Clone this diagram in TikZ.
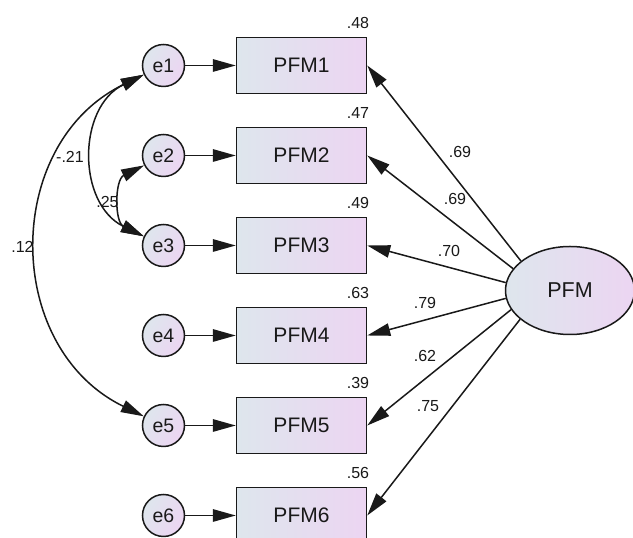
\documentclass[tikz,border=0pt]{standalone}
\usepackage{fontspec}
\setmainfont{Liberation Sans}
\usetikzlibrary{arrows.meta,shapes.geometric}

\definecolor{fillA}{RGB}{222,230,237}
\definecolor{fillB}{RGB}{236,213,242}
\definecolor{ink}{RGB}{25,25,25}

\tikzset{
  tipshape/.tip={Triangle[length=23pt,width=12.5pt]},
  conn/.style={line width=1.5pt, draw=ink, -tipshape},
  cov/.style={line width=1.5pt, draw=ink, tipshape-tipshape},
  obs/.style={rectangle, draw=ink, line width=1.5pt, minimum width=130pt,
    minimum height=56pt, inner sep=0pt, left color=fillA, right color=fillB,
    text=ink, font=\fontsize{21}{21}\selectfont},
  err/.style={circle, draw=ink, line width=1.5pt, minimum size=42pt,
    inner sep=0pt, left color=fillA, right color=fillB, shading angle=60,
    text=ink, font=\fontsize{19.5}{19.5}\selectfont},
  lat/.style={ellipse, draw=ink, line width=1.5pt, minimum width=129pt,
    minimum height=88pt, inner sep=0pt, left color=fillA, right color=fillB,
    text=ink, font=\fontsize{21.5}{21.5}\selectfont},
  val/.style={inner sep=0pt, text=ink, font=\fontsize{16}{16}\selectfont},
}

\begin{document}
\begin{tikzpicture}[x=1pt,y=1pt]
\useasboundingbox (0,0) rectangle (633,538);
\clip (0,0) rectangle (633,538);
\fill[white] (0,0) rectangle (633,538);

% observed indicators
\node[obs] (b1) at (301.5,472.5) {PFM1};
\node[obs] (b2) at (301.5,382.5) {PFM2};
\node[obs] (b3) at (301.5,292.5) {PFM3};
\node[obs] (b4) at (301.5,202.5) {PFM4};
\node[obs] (b5) at (301.5,112.5) {PFM5};
\node[obs] (b6) at (301.5,22.5) {PFM6};

% error terms
\node[err] (e1) at (163.5,472.5) {e1};
\node[err] (e2) at (163.5,382.5) {e2};
\node[err] (e3) at (163.5,292.5) {e3};
\node[err] (e4) at (163.5,202.5) {e4};
\node[err] (e5) at (163.5,112.5) {e5};
\node[err] (e6) at (163.5,22.5) {e6};

% latent factor
\node[lat] (pfm) at (570,247.5) {PFM};

% squared multiple correlations
\foreach \b/\v in {b1/.48,b2/.47,b3/.49,b4/.63,b5/.39,b6/.56}
  \node[val, anchor=east] at ([xshift=2pt,yshift=14pt]\b.north east) {\v};

% error paths
\foreach \i in {1,...,6}
  \draw[conn] (e\i) -- (b\i);

% factor loadings
\draw[conn] (pfm.149.5) -- (b1.east);
\draw[conn] (pfm.159) -- (b2.east);
\draw[conn] (pfm.173) -- (b3.east);
\draw[conn] (pfm.187.5) -- (b4.east);
\draw[conn] (pfm.198.5) -- (b5.east);
\draw[conn] (pfm.210.5) -- (b6.east);

\node[val] (l1) at (460,386) {.69};
\node[val] (l2) at (455,339) {.69};
\node[val] (l3) at (449,287) {.70};
\node[val] (l4) at (425,235) {.79};
\node[val] (l5) at (425,182) {.62};
\node[val] (l6) at (428,132) {.75};

% error covariances
\draw[cov] (e1.205) to[out=206,in=154,looseness=1.18] (e5.155);
\draw[cov] (e1.205) to[out=206,in=154,looseness=1.18] (e3.155);
\draw[cov] (e2.207) to[out=206,in=154,looseness=1.18] (e3.155);

\node[val] (c15) at (22.5,291) {.12};
\node[val] (c13) at (70,381) {-.21};
\node[val] (c23) at (107.5,336.5) {.25};
\end{tikzpicture}
\end{document}
